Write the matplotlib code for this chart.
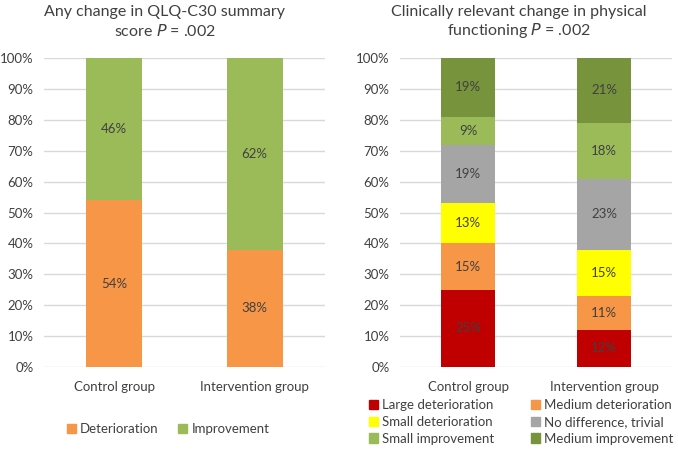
import numpy as np
import matplotlib.pyplot as plt
from matplotlib.patches import Patch

plt.rcParams['font.family'] = ['Lato', 'DejaVu Sans']

groups = ['Control group', 'Intervention group']

# Left panel: any change in QLQ-C30 summary score
left_names = ['Deterioration', 'Improvement']
left_vals = [[54, 38], [46, 62]]
left_colors = ['#F79646', '#9BBB59']

# Right panel: clinically relevant change in physical functioning
right_names = ['Large deterioration', 'Medium deterioration', 'Small deterioration',
               'No difference, trivial', 'Small improvement', 'Medium improvement']
right_vals = [[25, 12], [15, 11], [13, 15], [19, 23], [9, 18], [19, 21]]
right_colors = ['#C00000', '#F79646', '#FFFF00', '#A5A5A5', '#9BBB59', '#77933C']

txt = '#404040'
W, H = 678, 449
fig = plt.figure(figsize=(W / 100, H / 100), dpi=100)

ax1 = fig.add_axes([44 / W, 1 - 367 / H, 281 / W, 309 / H])
ax2 = fig.add_axes([400 / W, 1 - 367 / H, 272 / W, 309 / H])


def stacked(ax, vals, colors):
    x = np.arange(len(groups))
    bottom = np.zeros(len(groups))
    for v, c in zip(vals, colors):
        bars = ax.bar(x, v, 0.4, bottom=bottom, color=c, zorder=3)
        ax.bar_label(bars, labels=[f'{n}%' for n in v], label_type='center',
                     color=txt, fontsize=9.5)
        bottom += v
    ax.set_xlim(-0.5, 1.5)
    ax.set_ylim(0, 100)
    ax.set_yticks(range(0, 101, 10))
    ax.set_yticklabels([f'{t}%' for t in range(0, 101, 10)])
    ax.set_xticks(x)
    ax.set_xticklabels(groups)
    ax.tick_params(length=0, colors=txt, labelsize=9.5)
    ax.tick_params(axis='x', pad=10)
    ax.tick_params(axis='y', pad=7.5)
    ax.grid(axis='y', color='#D9D9D9', linewidth=1, zorder=0)
    for s in ax.spines.values():
        s.set_visible(False)


stacked(ax1, left_vals, left_colors)
stacked(ax2, right_vals, right_colors)

fig.text(165 / W, 1 - 12 / H, 'Any change in QLQ-C30 summary', ha='center', va='center',
         fontsize=11.5, color=txt)
fig.text(165 / W, 1 - 31 / H, 'score $\\it{P}$ = .002', ha='center', va='center',
         fontsize=11.5, color=txt)
fig.text(519 / W, 1 - 12 / H, 'Clinically relevant change in physical', ha='center',
         va='center', fontsize=11.5, color=txt)
fig.text(519 / W, 1 - 31 / H, 'functioning $\\it{P}$ = .002', ha='center', va='center',
         fontsize=11.5, color=txt)

h1 = [Patch(color=c, label=n) for n, c in zip(left_names, left_colors)]
fig.legend(handles=h1, loc='center', bbox_to_anchor=(168 / W, 1 - 429 / H), ncol=2,
           frameon=False, fontsize=9.5, labelcolor=txt, handlelength=0.7,
           handleheight=0.7, handletextpad=0.3, columnspacing=1.5)

# order so that two columns read row by row
order = [0, 2, 4, 1, 3, 5]
h2 = [Patch(color=right_colors[i], label=right_names[i]) for i in order]
fig.legend(handles=h2, loc='center', bbox_to_anchor=(521 / W, 1 - 422 / H), ncol=2,
           frameon=False, fontsize=9.5, labelcolor=txt, handlelength=0.7,
           handleheight=0.7, handletextpad=0.3, columnspacing=2.8, labelspacing=0.35)

fig.savefig('out.png', dpi=100)
